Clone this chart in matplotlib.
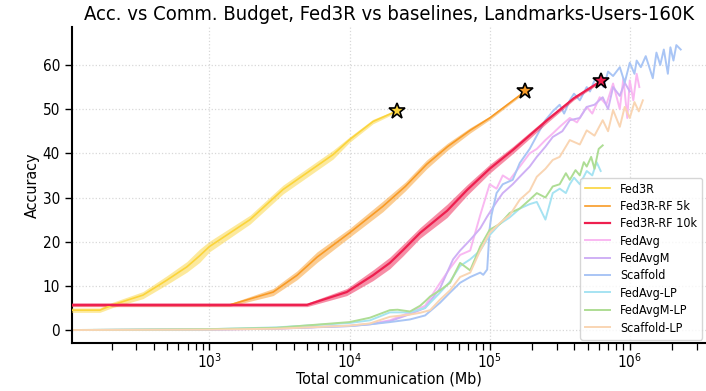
import matplotlib
matplotlib.use('Agg')
import matplotlib.pyplot as plt
import numpy as np

# Fed3R family (mean curve + std band), Mb vs accuracy
fed3r_x = [103, 165, 204, 335, 497, 690, 850, 1000, 1950, 3350, 7620, 10000, 14700, 21800]
fed3r_y = [4.5, 4.5, 5.7, 7.9, 11.3, 14.3, 16.8, 18.9, 25.0, 31.8, 39.7, 43.1, 47.2, 49.6]
fed3r_s = [0.5, 0.5, 0.6, 0.8, 1.0, 1.2, 1.5, 1.2, 1.0, 1.0, 1.0, 0.6, 0.5, 0.3]

rf5k_x = [103, 1400, 2850, 4220, 5860, 10000, 17300, 25000, 35500, 50000, 72500, 100000, 180000]
rf5k_y = [5.7, 5.7, 8.6, 12.4, 16.5, 22.0, 28.0, 32.5, 37.5, 41.5, 45.2, 48.0, 54.1]
rf5k_s = [0.3, 0.3, 0.8, 1.0, 1.2, 1.0, 1.2, 1.0, 1.0, 0.8, 0.6, 0.4, 0.3]

rf10k_x = [103, 4970, 9550, 14700, 19400, 24100, 31900, 49700, 69000, 100000, 147000, 257000, 400000, 625000]
rf10k_y = [5.7, 5.7, 8.6, 12.4, 15.2, 18.1, 22.0, 27.0, 31.7, 36.5, 40.8, 47.5, 52.5, 56.4]
rf10k_s = [0.4, 0.4, 0.8, 1.2, 1.3, 1.3, 1.2, 1.5, 1.2, 1.0, 0.8, 0.6, 0.4, 0.3]

# baselines
fedavg_x = [103, 1000, 3000, 10000, 14000, 19400, 27000, 34600, 44300, 52200, 61500, 72600, 85600,
            100000, 112000, 124000, 139000, 164000, 193000, 217000, 250000, 282000, 316000, 373000,
            420000, 493000, 540000, 610000, 680000, 760000, 849000, 900000, 960000, 1000000, 1060000,
            1120000, 1170000]
fedavg_y = [0, 0.1, 0.3, 1.0, 1.4, 2.2, 4.0, 5.5, 10.7, 14, 17, 18, 26, 33, 32, 35, 34, 37, 40, 41,
            43, 44.5, 46, 48, 47, 50.5, 49, 52.7, 51, 55.8, 50, 57, 48, 56.5, 52, 58, 55]

fedavgm_x = [103, 1000, 3000, 10000, 14000, 19400, 27000, 34600, 44300, 54800, 61500, 72600, 85600,
             96000, 112000, 124000, 146000, 164000, 193000, 217000, 250000, 282000, 330000, 373000,
             440000, 493000, 560000, 641000, 700000, 760000, 849000, 920000, 1000000]
fedavgm_y = [0, 0.1, 0.3, 0.9, 1.3, 2.0, 3.6, 5.0, 9.5, 16, 18, 20.4, 23, 25.7, 29, 31, 33, 34.7,
             37, 39.2, 41.5, 43.7, 45, 47.5, 48, 50.5, 51, 52.7, 50, 55, 53, 56, 54]

scaffold_x = [103, 1000, 3000, 10000, 14000, 19400, 27000, 34600, 44300, 52200, 61500, 72600, 85600,
              90000, 96000, 100000, 103000, 112000, 124000, 146000, 164000, 193000, 217000, 250000,
              282000, 316000, 340000, 373000, 400000, 440000, 493000, 520000, 560000, 610000, 650000,
              700000, 760000, 849000, 920000, 1000000, 1080000, 1120000, 1200000, 1300000, 1460000,
              1550000, 1650000, 1750000, 1870000, 1950000, 2050000, 2150000, 2310000]
scaffold_y = [0, 0.1, 0.4, 0.9, 1.3, 1.8, 2.4, 3.3, 6.2, 8.5, 10.7, 12, 13, 12.5, 13.7, 23, 26, 31,
              33, 34, 37.8, 41, 44, 47.5, 49.5, 51, 49, 52, 53.5, 52, 55, 54, 56.5, 57, 55, 58.5,
              57.5, 59.5, 56, 60.5, 58, 61, 59.5, 62, 57, 62.8, 60, 63.5, 58, 64, 61, 64.5, 63.5]

fedavg_lp_x = [103, 1000, 3000, 10000, 14000, 19400, 27000, 34600, 44300, 52200, 61500, 72600, 85600,
               100000, 118000, 139000, 164000, 193000, 217000, 250000, 282000, 316000, 350000, 373000,
               400000, 440000, 493000, 540000, 580000, 620000]
fedavg_lp_y = [0, 0.2, 0.6, 1.6, 2.2, 4.0, 4.0, 5.0, 8.5, 11, 14.5, 16, 18, 21.5, 24, 25.5, 27.5,
               28.5, 29, 25, 31, 32, 31, 33, 34.5, 33, 36, 35, 38, 36]

fedavgm_lp_x = [103, 1000, 3000, 10000, 14000, 19400, 22000, 27000, 31900, 34600, 37600, 44300, 52200,
                61500, 72600, 85600, 100000, 118000, 139000, 164000, 193000, 217000, 250000, 282000,
                316000, 350000, 373000, 410000, 440000, 470000, 493000, 530000, 560000, 600000, 641000]
fedavgm_lp_y = [0, 0.2, 0.5, 1.8, 2.8, 4.5, 4.6, 4.2, 5.5, 6.5, 7.6, 9, 10.7, 15.2, 13.5, 18.9,
                22.7, 24, 26.5, 27.5, 29.5, 31, 30, 32.5, 33, 35.5, 34, 36.2, 35, 38, 37, 39.2,
                36.5, 41, 41.8]

scaffold_lp_x = [103, 1000, 3000, 10000, 14000, 19400, 27000, 31900, 37600, 44300, 52200, 61500,
                 72600, 85600, 100000, 118000, 139000, 164000, 193000, 217000, 250000, 282000,
                 316000, 373000, 440000, 493000, 560000, 641000, 700000, 760000, 849000, 920000,
                 1000000, 1080000, 1160000, 1240000]
scaffold_lp_y = [0, 0.1, 0.3, 1.0, 1.5, 3.0, 3.5, 3.9, 4.5, 6.9, 9, 12, 13, 18, 22, 24.2, 26, 29.5,
                 31.5, 34.7, 36.5, 38.5, 39.2, 43, 42, 45.2, 44, 47.5, 45, 49.8, 46, 50.5, 48,
                 51.6, 49.5, 52]

plt.rcParams.update({
    'font.family': ['DejaVu Sans'],
    'font.stretch': 'condensed',
    'font.size': 11,
})

fig = plt.figure(figsize=(7.06, 3.91), dpi=100)
ax = fig.add_axes([0.1016, 0.122, 0.8984, 0.809])

baselines = [
    ('FedAvg', fedavg_x, fedavg_y, '#f9b8f1'),
    ('FedAvgM', fedavgm_x, fedavgm_y, '#cfb0f5'),
    ('Scaffold', scaffold_x, scaffold_y, '#a9c5f5'),
    ('FedAvg-LP', fedavg_lp_x, fedavg_lp_y, '#a6e3f2'),
    ('FedAvgM-LP', fedavgm_lp_x, fedavgm_lp_y, '#aedd94'),
    ('Scaffold-LP', scaffold_lp_x, scaffold_lp_y, '#f9d5b3'),
]
ours = [
    ('Fed3R', fed3r_x, fed3r_y, fed3r_s, '#fbd43b', 1.2),
    ('Fed3R-RF 5k', rf5k_x, rf5k_y, rf5k_s, '#f89b26', 1.2),
    ('Fed3R-RF 10k', rf10k_x, rf10k_y, rf10k_s, '#ee1f4f', 1.6),
]

handles = {}
for name, xs, ys, col in baselines:
    h, = ax.plot(xs, ys, color=col, lw=1.4, zorder=2, label=name)
    handles[name] = h

for name, xs, ys, ss, col, lw in ours:
    xs = np.array(xs); ys = np.array(ys); ss = np.array(ss)
    ax.fill_between(xs, ys - ss, ys + ss, color=col, alpha=0.5, lw=0, zorder=3)
    h, = ax.plot(xs, ys, color=col, lw=lw, zorder=4, label=name)
    ax.plot(xs[-1], ys[-1], marker='*', ms=12, mfc=col, mec='black', mew=1.2, zorder=6)
    handles[name] = h

ax.set_xscale('log')
ax.set_xlim(104, 3.5e6)
ax.set_ylim(-3.0, 68.6)
ax.set_yticks([0, 10, 20, 30, 40, 50, 60])
ax.grid(True, which='major', color='#d8d8d8', linestyle=':', linewidth=0.9)
ax.set_axisbelow(True)
for s in ['top', 'right']:
    ax.spines[s].set_visible(False)
for s in ['left', 'bottom']:
    ax.spines[s].set_linewidth(1.5)
ax.tick_params(axis='both', which='major', length=5, width=1, labelsize=11)
ax.tick_params(axis='x', which='major', pad=1.5)
ax.tick_params(axis='x', which='minor', length=5, width=0.9)

ax.set_xlabel('Total communication (Mb)', fontsize=11.5, labelpad=0)
ax.set_ylabel('Accuracy', fontsize=11.5, labelpad=2)
ax.set_title('Acc. vs Comm. Budget, Fed3R vs baselines, Landmarks-Users-160K', fontsize=14.5, pad=5)

order = ['Fed3R', 'Fed3R-RF 5k', 'Fed3R-RF 10k', 'FedAvg', 'FedAvgM', 'Scaffold',
         'FedAvg-LP', 'FedAvgM-LP', 'Scaffold-LP']
ax.legend([handles[n] for n in order], order, loc='lower right', fontsize=9,
          framealpha=0.8, labelspacing=0.35, borderaxespad=0.3)

fig.savefig('out.png', dpi=100)
